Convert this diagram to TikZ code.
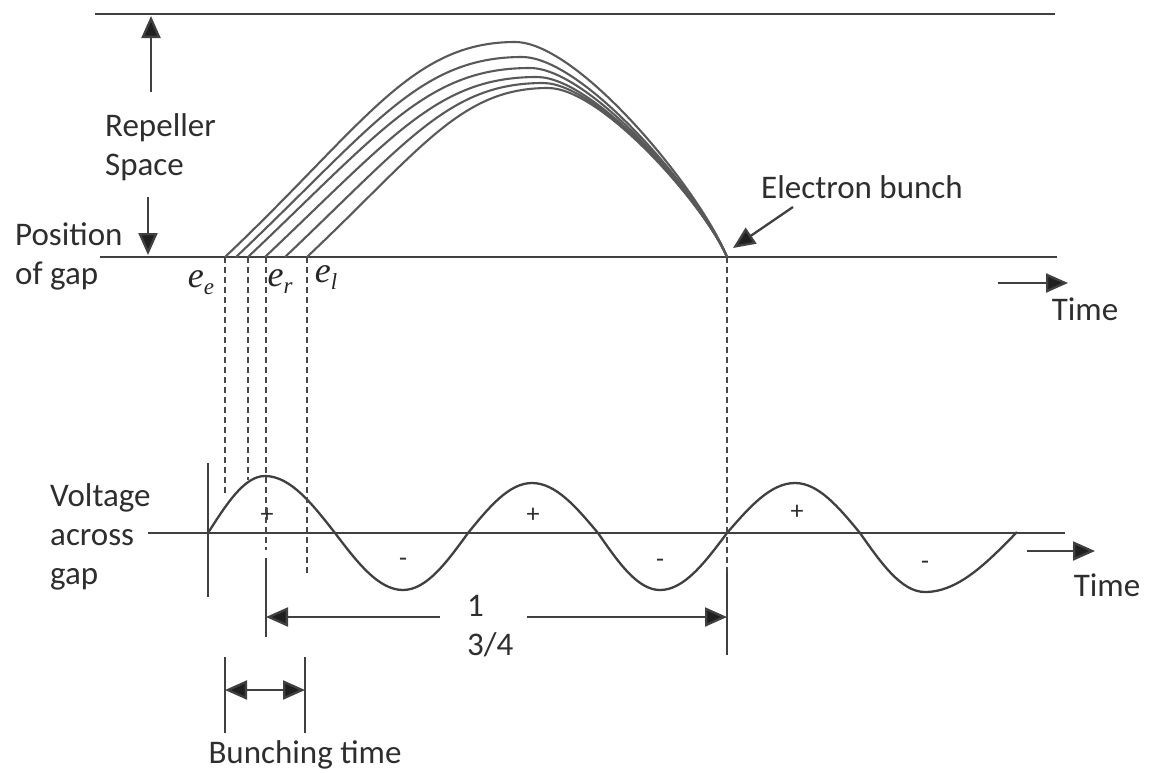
\documentclass[tikz,border=0pt]{standalone}
\usepackage{fontspec}
\setmainfont{Carlito}
\newfontfamily\serifit{Liberation Serif}
\usetikzlibrary{arrows.meta,calc}
\newcommand{\esub}[1]{{\serifit\itshape e\raisebox{-7pt}{\fontsize{23}{26}\selectfont #1}}}
\begin{document}
\begin{tikzpicture}[x=1pt,y=-1pt,
  ln/.style={line width=2.3pt, draw=black!75},
  crv/.style={line width=2.1pt, draw=black!65},
  dsh/.style={line width=1.7pt, draw=black!72, dash pattern=on 6pt off 4pt},
  arr/.style={ln, -{Triangle[length=22pt,width=19pt,fill=black!88]}},
  darr/.style={ln, {Triangle[length=22pt,width=19pt,fill=black!88]}-{Triangle[length=22pt,width=19pt,fill=black!88]}},
  lbl/.style={font=\fontsize{33}{39}\selectfont, text=black!82, inner sep=0pt},
  sgn/.style={font=\fontsize{26}{30}\selectfont, text=black!82, inner sep=0pt},
  mth/.style={font=\fontsize{36}{40}\selectfont, text=black!85, inner sep=0pt},
]
\useasboundingbox (0,0) rectangle (1151,772);

% horizontal reference lines
\coordinate (topL) at (95,14);   \coordinate (topR) at (1055,14);
\coordinate (gapL) at (100,257); \coordinate (gapR) at (1057,257);
\coordinate (axL) at (148,533);  \coordinate (axR) at (1065,533);
\draw[ln] (topL) -- (topR);
\draw[ln] (gapL) -- (gapR);
\draw[ln] (axL) -- (axR);

% repeller space arrows
\coordinate (upA) at (151,92);  \coordinate (upB) at (151,16);
\coordinate (dnA) at (148,197); \coordinate (dnB) at (148,255);
\draw[arr] (upA) -- (upB);
\draw[arr] (dnA) -- (dnB);

% labels left
\node[lbl, anchor=west, align=left] (rep) at (105,147) {Repeller\\Space};
\node[lbl, anchor=west, align=left] (pos) at (15,256) {Position\\of gap};
\node[lbl, anchor=west, align=left] (volt) at (50,537) {Voltage\\across\\gap};

% electron trajectories
\coordinate (E) at (727,257);
\foreach \s/\px/\py in {225/515/42, 236/522/57, 248/530/68, 265/537/77, 285/543/83, 307/548/88}{
  \pgfmathsetmacro{\ax}{\s+0.48*(\px-\s)}
  \pgfmathsetmacro{\ay}{257-0.455*(\px-\s)}
  \pgfmathsetmacro{\bx}{\px-0.36*(\px-\s)}
  \pgfmathsetmacro{\cx}{\px+0.3*(727-\px)}
  \pgfmathsetmacro{\dx}{727-0.127*(727-\px)}
  \pgfmathsetmacro{\dy}{257-0.31*(257-\py)}
  \draw[crv] (\s,257) .. controls (\ax,\ay) and (\bx,\py) .. (\px,\py)
                      .. controls (\cx,\py) and (\dx,\dy) .. (E);
}

% electron labels
\node[mth] (ee) at (201,283) {\esub{e}};
\node[mth] (er) at (280,282) {\esub{r}};
\node[mth] (el) at (326,278) {\esub{l}};

% electron bunch
\node[lbl] (eb) at (862,187) {Electron bunch};
\coordinate (ebA) at (793,207); \coordinate (ebB) at (733,248);
\draw[arr] (ebA) -- (ebB);

% time arrows
\coordinate (t1A) at (998,283); \coordinate (t1B) at (1068,283);
\draw[arr] (t1A) -- (t1B);
\node[lbl] (time1) at (1085,309) {Time};
\coordinate (t2A) at (1027,551); \coordinate (t2B) at (1095,551);
\draw[arr] (t2A) -- (t2B);
\node[lbl] (time2) at (1107,585) {Time};

% sine wave
\draw[ln] (208,533) sin (265,476) cos (335,533) sin (403,590) cos (468,533)
  sin (532,483) cos (598,533) sin (660,590) cos (727,533)
  sin (795,483) cos (860,533) sin (925,592) cos (1017,532);

% signs
\node[sgn] (p1) at (267,515) {+};
\node[sgn] (p2) at (533,515) {+};
\node[sgn] (p3) at (797,512) {+};
\node[sgn] (m1) at (403,562) {-};
\node[sgn] (m2) at (660,563) {-};
\node[sgn] (m3) at (925,565) {-};

% dashed projections
\draw[dsh] (225,257) -- (225,493);
\draw[dsh] (248,257) -- (248,480);
\draw[dsh] (266,257) -- (266,550);
\draw[dsh] (307,257) -- (307,573);
\draw[dsh] (727,257) -- (727,573);

% ticks
\draw[ln] (208,463) -- (208,597);
\coordinate (dL) at (266,617); \coordinate (dR) at (727,617);
\draw[ln] (266,558) -- (266,637);
\draw[ln] (727,573) -- (727,655);

% 1 3/4 dimension
\coordinate (dLa) at (440,617); \coordinate (dRa) at (527,617);
\draw[arr] (dLa) -- (dL);
\draw[arr] (dRa) -- (dR);
\node[lbl, anchor=west, align=left] (frac) at (467,626) {1\\3/4};

% bunching time
\draw[ln] (225,657) -- (225,733);
\draw[ln] (305,657) -- (305,733);
\coordinate (bA) at (225,690); \coordinate (bB) at (305,690);
\draw[darr] (bA) -- (bB);
\node[lbl] (bt) at (305,755) {Bunching time};
\end{tikzpicture}
\end{document}
